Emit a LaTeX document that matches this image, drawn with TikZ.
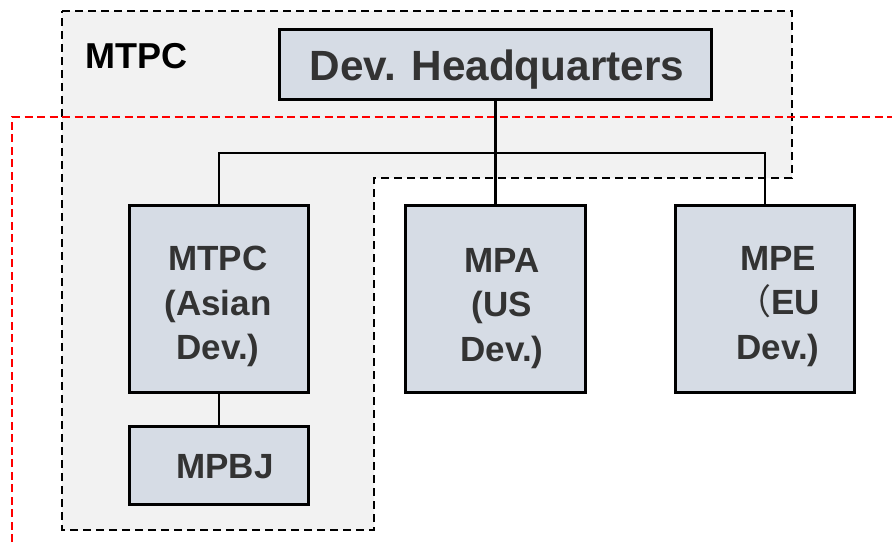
\documentclass[tikz,border=0pt]{standalone}
\usepackage{fontspec}
\setmainfont{Liberation Sans}
\newfontfamily\cjk{Noto Sans CJK SC}
\definecolor{regionfill}{HTML}{F2F2F2}
\definecolor{boxfill}{HTML}{D6DCE5}
\definecolor{txtgray}{HTML}{333333}
\tikzset{
  regionline/.style={draw=black, line width=2.5pt, dash pattern=on 8pt off 5pt, fill=regionfill},
  redline/.style={draw=red, line width=2pt, dash pattern=on 8pt off 4.5pt},
  orgbox/.style={draw=black, line width=2.8pt, fill=boxfill, inner sep=0pt},
  conn/.style={draw=black, line width=2.4pt},
  boxtext/.style={text=txtgray, font=\bfseries\fontsize{35}{44.5}\selectfont, align=center, inner sep=0pt},
}
\begin{document}
\begin{tikzpicture}[x=1pt,y=-1pt]
\useasboundingbox (0,0) rectangle (892,542);
% grey MTPC region
\draw[regionline] (62,11) -- (792,11) -- (792,178) -- (374,178) -- (374,530) -- (62,530) -- cycle;
% red dashed region
\draw[redline] (12,542) -- (12,117) -- (892,117);
% boxes
\node[orgbox, minimum width=432pt, minimum height=70pt] (hq) at (495.5,64.5) {};
\node[orgbox, minimum width=179pt, minimum height=187pt] (mtpc) at (219,299) {};
\node[orgbox, minimum width=180pt, minimum height=187pt] (mpa) at (495.5,299) {};
\node[orgbox, minimum width=179pt, minimum height=187pt] (mpe) at (765,299) {};
\node[orgbox, minimum width=179pt, minimum height=78pt] (mpbj) at (219,465.5) {};
% connectors
\coordinate (bus) at (219,153);
\draw[conn] (hq.south) -- (mpa.north);
\draw[conn] (mtpc.north) -- (mtpc.north |- bus) -- (mpe.north |- bus) -- (mpe.north);
\draw[conn] (mtpc.south) -- (mpbj.north);
% texts
\node[text=txtgray, font=\bfseries\fontsize{42.3}{50}\selectfont, inner sep=0pt, text height=30pt, text depth=0pt] (hqt) at (497,65) {Dev. Headquarters};
\node[font=\bfseries\fontsize{36}{43}\selectfont, inner sep=0pt, anchor=base west] (mtpclabel) at (85,68) {MTPC};
\node[boxtext, anchor=north] (mtpct) at (218,246) {MTPC\\(Asian\\Dev.)};
\node[boxtext, anchor=north] (mpat) at (502,248) {MPA\\(US\\Dev.)};
\node[boxtext, anchor=north] (mpet) at (778,246) {MPE\\{\cjk\mdseries （}EU\\Dev.)};
\node[boxtext, text height=25pt, text depth=0pt] (mpbjt) at (225,466) {MPBJ};
\end{tikzpicture}
\end{document}
